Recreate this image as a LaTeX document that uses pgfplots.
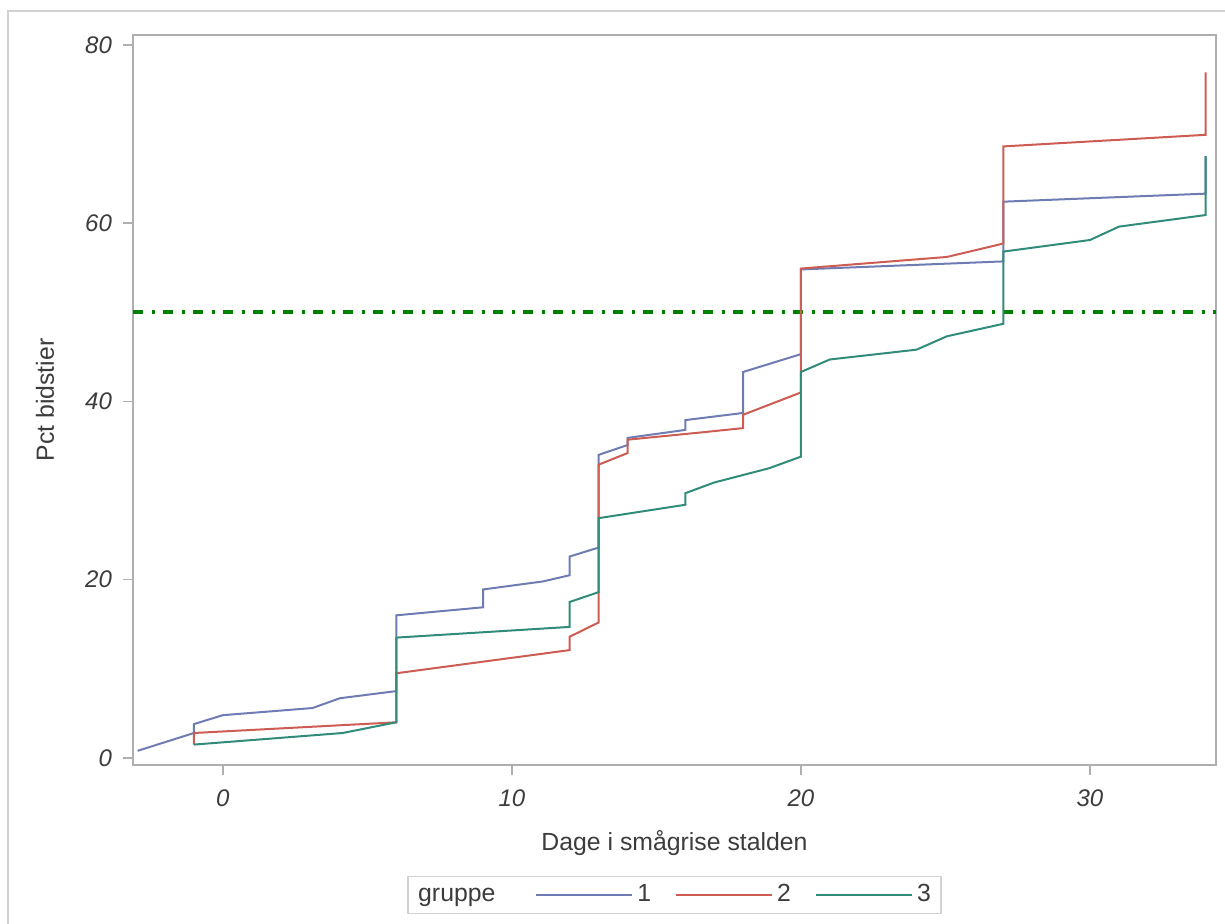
\documentclass[border=0pt]{standalone}
\usepackage{fontspec}
\setmainfont{Liberation Sans}
\usepackage{pgfplots}
\pgfplotsset{compat=1.18}

\definecolor{gblue}{RGB}{111,124,180}
\definecolor{gred}{RGB}{205,92,82}
\definecolor{gteal}{RGB}{48,140,120}
\definecolor{refline}{RGB}{0,128,0}
\definecolor{axisgray}{RGB}{175,175,175}
\definecolor{framegray}{RGB}{210,210,210}
\definecolor{textgray}{RGB}{60,60,60}

\begin{document}
\begin{tikzpicture}
\useasboundingbox (-66.5pt,-79.5pt) rectangle (546pt,382.5pt);
% outer frame (only top and left visible in the reference)
\draw[framegray, line width=0.75pt] (-62.5pt,-79.5pt) -- (-62.5pt,377pt) -- (546pt,377pt);
\begin{axis}[
    at={(0pt,0pt)}, anchor=south west,
    scale only axis,
    width=541.5pt, height=365pt,
    xmin=-3.11, xmax=34.36,
    ymin=-0.79, ymax=81.1,
    xtick={0,10,20,30},
    ytick={0,20,40,60,80},
    xtick pos=bottom, ytick pos=left,
    tick align=outside,
    major tick length=5pt,
    axis line style={draw=axisgray, line width=0.75pt},
    tick style={draw=axisgray, line width=0.75pt},
    /pgf/number format/assume math mode=true,
    ticklabel style={font=\fontsize{12}{14}\selectfont\itshape, text=textgray},
    xticklabel style={yshift=-4pt},
    yticklabel style={xshift=-2pt},
    xlabel={Dage i smågrise stalden},
    ylabel={Pct bidstier},
    label style={font=\fontsize{12.4}{15}\selectfont, text=textgray},
    xlabel style={at={(axis description cs:0.5,-0.1068)}, anchor=center},
    ylabel style={at={(axis description cs:-0.0813,0.5)}, anchor=center},
    legend columns=-1,
    legend style={
        at={(axis description cs:0.5,-0.178)}, anchor=center,
        draw=framegray, line width=0.75pt,
        font=\fontsize{12.4}{15}\selectfont, text=textgray,
        nodes={text height=1.6ex, text depth=0.4ex},
        inner xsep=3pt, inner ysep=2pt,
        /tikz/every even column/.append style={column sep=10pt},
    },
    legend image code/.code={\path (0pt,0pt) -- (48pt,0pt);
        \draw[#1, line width=1pt] (0pt,0pt) -- (45pt,0pt);},
]
% reference line at 50 pct
\addplot[forget plot, refline, line width=2pt, dash pattern=on 5pt off 4.3pt on 1.5pt off 4.2pt]
    coordinates {(-3.11,50) (34.36,50)};

\addlegendimage{empty legend}
\addlegendentry{gruppe\rule{8pt}{0pt}}

% gruppe 1
\addplot[gblue, line width=1pt] coordinates {
    (-2.95,0.8) (-1,2.8) (-1,3.8) (0,4.8) (3.1,5.6) (4.05,6.7) (6,7.5)
    (6,16.0) (9,16.9) (9,18.9) (11.07,19.8) (12,20.5) (12,22.6) (13,23.6)
    (13,34.0) (14,35.1) (14,35.9) (16,36.8) (16,37.9) (18,38.7) (18,43.3)
    (20,45.3) (20,54.8) (27,55.7) (27,62.4) (34,63.3) (34,67.5)
};
\addlegendentry{1}

% gruppe 2
\addplot[gred, line width=1pt] coordinates {
    (-1,1.5) (-1,2.8) (6,4.0) (6,9.5) (12,12.1) (12,13.6) (13,15.2)
    (13,32.9) (14,34.2) (14,35.7) (16.5,36.5) (18,37.0) (18,38.5) (20,41.0)
    (20,54.9) (25.05,56.2) (27,57.7) (27,68.6) (34,69.9) (34,76.9)
};
\addlegendentry{2}

% gruppe 3
\addplot[gteal, line width=1pt] coordinates {
    (-1,1.5) (4.15,2.8) (6,4.0) (6,13.5) (12,14.7) (12,17.5) (13,18.6)
    (13,26.9) (16,28.4) (16,29.7) (17,30.9) (18.9,32.5) (20,33.8) (20,43.3)
    (21,44.7) (24,45.8) (25.05,47.3) (27,48.7) (27,56.8) (30,58.1) (31,59.6)
    (34,60.9) (34,67.5)
};
\addlegendentry{3}
\end{axis}
\end{tikzpicture}
\end{document}
